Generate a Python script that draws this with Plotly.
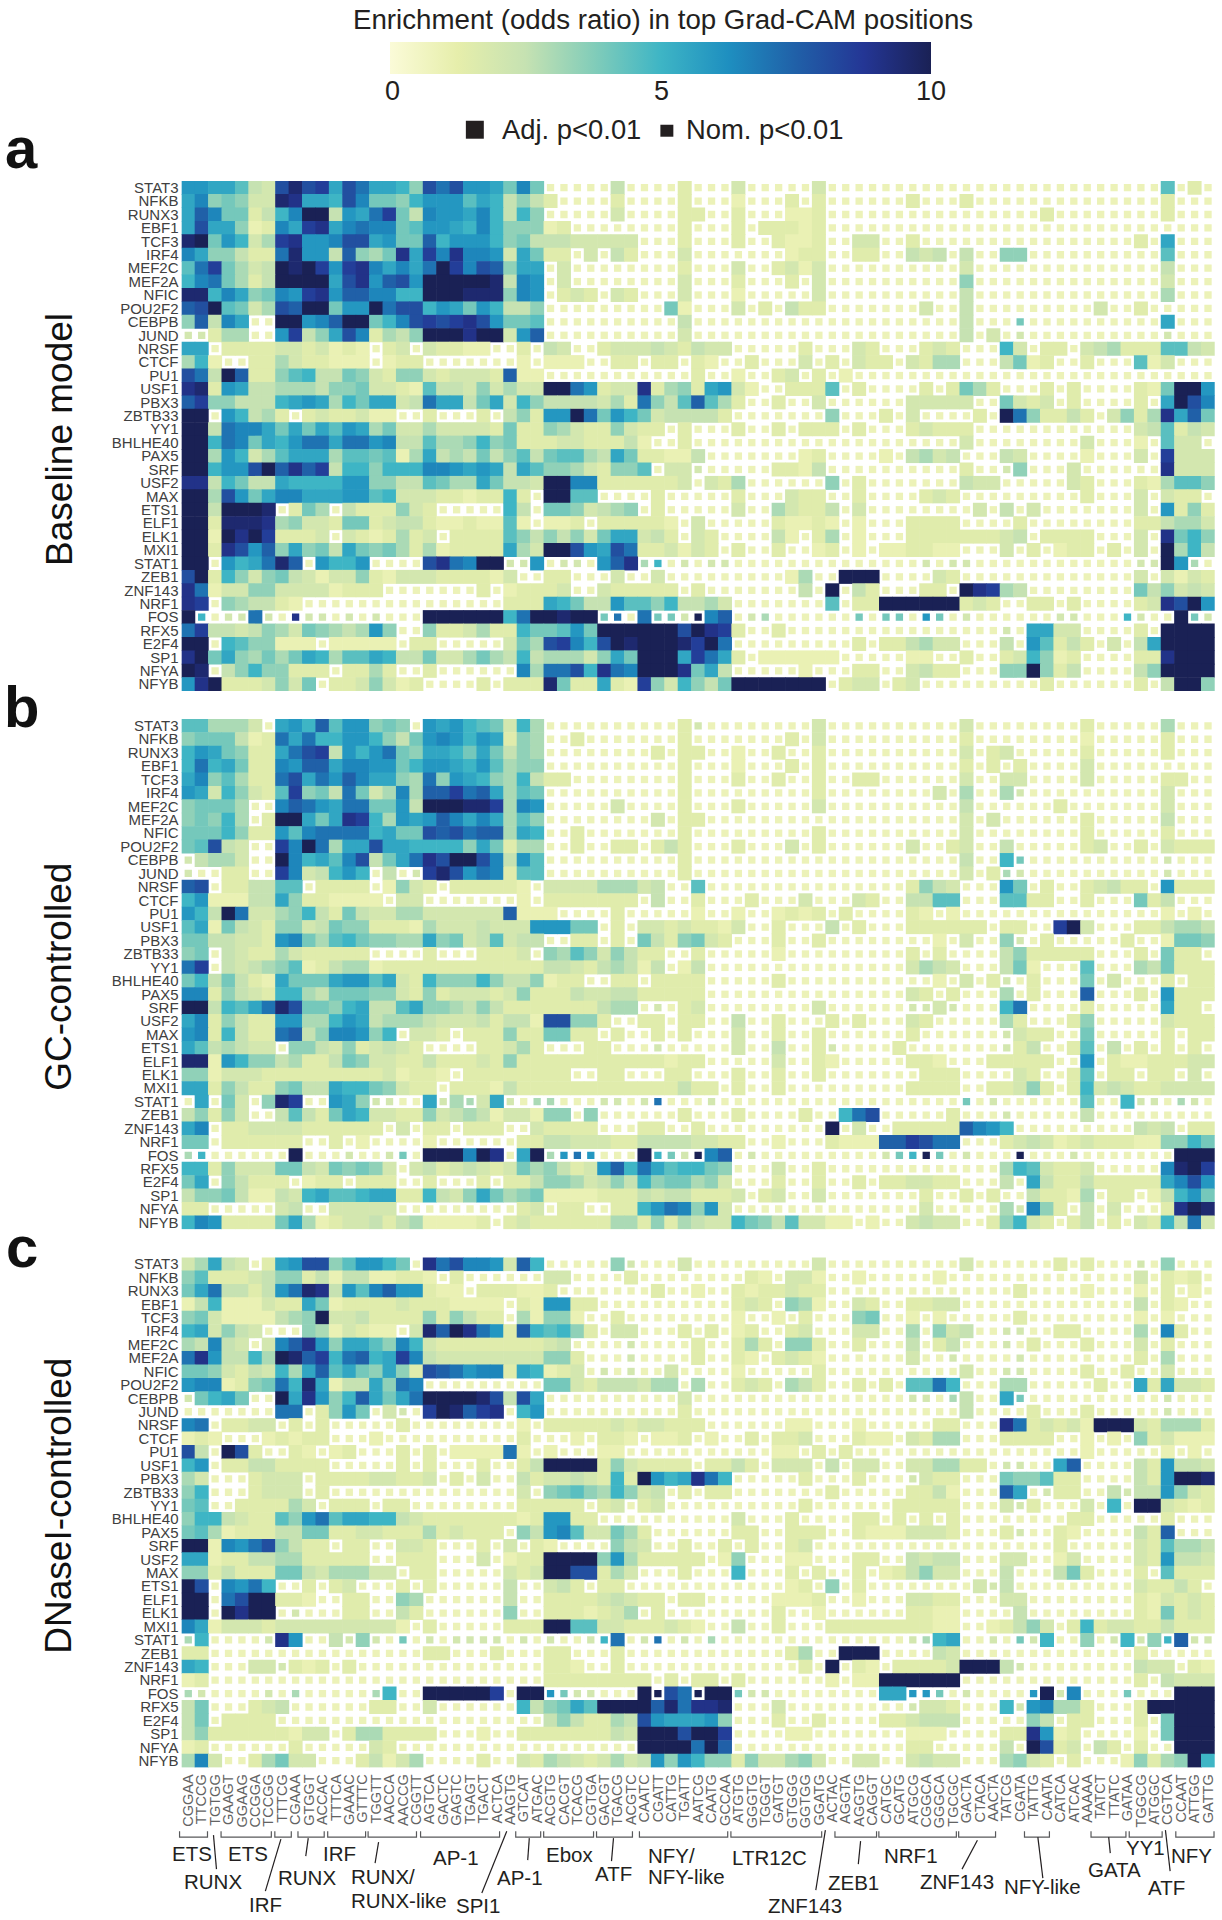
import plotly.graph_objects as go

ROWS = ["STAT3", "NFKB", "RUNX3", "EBF1", "TCF3", "IRF4", "MEF2C", "MEF2A", "NFIC", "POU2F2",
        "CEBPB", "JUND", "NRSF", "CTCF", "PU1", "USF1", "PBX3", "ZBTB33", "YY1", "BHLHE40",
        "PAX5", "SRF", "USF2", "MAX", "ETS1", "ELF1", "ELK1", "MXI1", "STAT1", "ZEB1",
        "ZNF143", "NRF1", "FOS", "RFX5", "E2F4", "SP1", "NFYA", "NFYB"]

MOTIFS = ["CGGAA", "TTCCG", "TGTGG", "GAAGT", "GGAAG", "CCGGA", "TCCGG", "TTTCG", "CGAAA", "GTGGT",
          "ACCAC", "TTTCA", "GAAAC", "GTTTC", "TGGTT", "AACCA", "AACCG", "CGGTT", "AGTCA", "GACTC",
          "GAGTC", "TGAGT", "TGACT", "ACTCA", "AAGTG", "GTCAT", "ATGAC", "ACGTG", "CACGT", "TCACG",
          "CGTGA", "GACGT", "TGACG", "ACGTC", "CAATC", "CGATT", "CATTG", "TGATT", "AATCG", "CAATG",
          "GCCAA", "ATGTG", "GGGTG", "TGGGT", "GATGT", "GTGGG", "GGTGG", "GGATG", "ACTAC", "AGGTA",
          "AGGTG", "CAGGT", "CATGC", "GCATG", "ATGCG", "CGGCA", "GGGCA", "TGCGC", "GACTA", "CTACA",
          "AACTA", "TATCG", "CGATA", "TATTG", "CAATA", "CATCA", "ATCAC", "AAAAA", "TATCT", "TTATC",
          "GATAA", "TGGCG", "ATGGC", "CGTCA", "CCAAT", "ATTGG", "GATTG"]

# one string per TF, one character per motif
# large cells (adj. p): 0-9 then A-K, odds ratio = position / 2
# small cells (nom. p): . = about 0.9, then n p q r s t u v w = 2 to 10
PANEL_A = [
    "CCBB954GJG HBGEBBA7GE GCCB8D8... ..5.... 3... 4.....4... .......... .......... ..9.3.",
    "BD78744JIB BAGD887ACC C9BA5753.. ..3.... 3... 2...3.3... ...3...3.. .......... ..3...",
    "BFD8835ADK K5CBEH85DC CBDA5A7... ..4.... 33.. 3...223... .......... ...3...... ..3...",
    "BGBB723DBH IBDEDD89CC BADA77723. ....... 3... 3.33323... .......... .......... ......",
    "JK8CA46HIC CDGGBC88FA CCCA785554 4444... 3... 3..3223..4 4..3...... .......... 3.B...",
    "DB77533EJC C5F768IBHD IDDC4B833. 4.53... 4... ....233..3 3..545.5.. 77........ ..9...",
    "9EH8645KJK HCHIDBDBEK HDGF7BB.4. ....... 3... 4..3424... .......4.. .......... ..5...",
    "ADE8635KKK KBGICFGCKK KKKJ5DC.4. ....... 4... 3...3.4... .......7.. .......... ..4...",
    "JJADB78DCH ICFFDDAAKK KJJJ7DC.34 3.43... 4... 2.....4... .......5.. .......... ..6...",
    "FGK9846GFK K8CCKEGGAC B8CA557... ......8 2... 4.3.533... ....4..5.. .......4.. 3.....",
    "7F5DB..KKC DFKK8ADGHG HIGC889... ....... 5... .......... .......5.. .q........ ..B...",
    "nn366..CH5 7BGD3657KK KIKK4CF... ....... 4... .......... .......5.4 .n........ ..n...",
    "BB.3333443 4232.34.43 322..3.54. .344454 3544 .....3...4 3...343... A4.33.4563 339954",
    "6A2..33643 3222.233.. .....2.222 ..33.33 .32. .3...4.3.4 33.4366... 5823..3... 924...",
    "GE5KF3379A 5587437743 4443F22... ....... .3.. 2..34.3.2. .......... .......... ......",
    "IJ3CB55666 5778443295 5474644KKE C344I36 73BC 42..3339.3 ....3.3863 ...3.3.... 328KKC",
    "FH77555ABC B6A8BB45EB B58B4A7555 5463E75 9F96 3..3..4... ...44444.. 8434.3.... 3.BKGD",
    "KK.CA563.3 433422..3. ..3.573CCK E8CA845 5553 .......7.. .3.4....3. KE73353.47 36IBF8",
    "KK5EDDB8B8 B9CB684464 4443833764 337433. 3... 3..3.333.3 ...34333.. .......... 459354",
    "KKAED8BACE EBEECD5596 67A7833344 33352.. 3... .......... .......4.. ......4... 2.944.",
    "KK6CA469BB B6998926B5 6585795899 65B8332 25.. .....23... .2.5645... 54....2... 4.H444",
    "KKACCGKFIF H5AA7AAADD CBCB5B9776 43779.4 4n.. ...3325... .......3.. n7...4.... ..I444",
    "II5A855BAA AACC775598 66B8554KKD D333333 4.43 6......7.3 .......544 .....43... 326997",
    "KK6GC8BDDB BBCC9A4443 3233A3.KK9 9....3. .... 3...433..3 ....343... ......3... 4.433.",
    "KK5KKKJ.38 6.5333743. ....A5.887 4567.3. .... 4..64335.4 ........4. 5.4....... 4.C373",
    "KK3JJJI674 4388345532 232292.223 .333332 .4.. ...32232.2 ...3333... .3........ 335664",
    "KK2KIKH333 4.4323634. 3333975757 48BB453 .43. ...52.36.2 ...3333333 45.3333... 4.I8A7",
    "KK3IGCF7B7 85B8786362 3333B64KKG CBGE334 243. 3..3..23.2 .223322... 4.3.233.3. 4.K6A5",
    "KK.CABEJF. CAAC....GI EDKKnnC.nn .CFIpr. n.nn .......... ....n.nn.. .......... nnKCp.",
    "GK3A747854 2447324443 33324..33. ..4..4. .... ....26..KK K....43... .......... 4.4243",
    "IE24477444 42333..... ..3.23334. .433333 .3.. .....5.K.5 3...33.KIH 65........ 857454",
    "IH.765532. .......... ....333BA8 55C997A 5564 .......9.3 3KKKKKK343 ..33.3.... 34IGKC",
    "Kr.nnEn.vn n.n.n...KK KKKKAEKKJK Kqt.Eqq nwDF .np......q .qq.sq.n.. ....nn...r n..Kqn",
    "EH55457648 7656C7..73 34633A889C 8KKKKKK GKIH 3..3...... .......... n.BB44.... 3.KKKK",
    "KK.A977222 .22222.33. ....486GHD AGKJKKK JHKE .........3 .335644... 5.C9353.4. 5BKKKK",
    "IK8B76868B A699BA5584 46865A5666 47B8KKK BHEB 3.222222.. ...22..3.. 34A723.... 33IKKK",
    "KJ.57A7733 3.3363..3. .....D6EEG AIEDKKK I8B5 .....2...3 3..4533... 77K735.... 57KKKK",
    "CIK3334748 .3347423.. ..3.333J83 3B32H74 A758 KKKKKKK.34 4.34...... ...3...... 3.5KK7",
]

PANEL_B = [
    "996664.BCA F9CC787.CB CA984A6... ....... 3n.. ......4... .......4.. ......3... ..6...",
    "7888523EBE AACCA758CD CACB376..3 ....... 3... ....3.4... .......3.. ......2... ..3...",
    "ACB8733BEG H5CACE87BB A8B8576... .....3. 33.. 2..3..3... .......4.3 4.....3... ..3...",
    "AEAB833DCF FBDDCC8ACC BAC9677... ....... 3... 2...3.3... .......3.3 .3....4... ......",
    "BD79633EGB ECFDBB76E7 CBA76A533. ....... 3... 3..3..3..3 3......4.. 44....4... ..33..",
    "CB4A7439H7 85E846D6FF HEFB698... ....... 3... ......3... .....4.6.. 6n........ ..4...",
    "78886..DFE CBEE88C5KK KJJH6DC... ..4.... 3... 3.....4... .......5.. ....3..... ..4...",
    "787A6.3KKB 8BIHA6CBCF DBDB697... .....4. 33.. .......... .......4.4 ......3... ..5...",
    "888A733C9D EEEEAB88GF GEFF6BA..3 ....... 3... ......3... .......4.. ......3... ..3...",
    "89G54..HDK E6BBGBBAAA A7B8366..3 ..33.35 3... 3...4.3... ...4..34.. 5.....34.. 3.4333",
    "n5664..KDA B9DG58BEIG KKGD5C9... ....... 3... .......... .......5.. Aq........ ..n...",
    "n..33..HD4 5ACA.5.nHJ GCED399... ....... 3... .......... .......4.3 pn........ ..n...",
    "FG.335599. 3333.2743. 333332.444 466645. .9.. .......... ...3754... C8.3..3453 3.C333",
    "AC22255B73 32222.44.. .....2.333 3333.5. .3.. .3...4...4 3..5599... 9933..3... 835...",
    "CA5KE4467A 5385446644 4444F222.. ..3.... .2.. 2..2323.3. ...32.2... .......... ..2.2.",
    "9B28543774 5877333264 445444CCC8 8.3.443 4332 4..3...5.3 ...333333. 33..HK4... 335665",
    "8855443CD8 69A87766B7 8459455..3 3.3.853 7843 ...3..3... .....2.4.. 7n.3.....3 ..2887",
    "78.5433643 3333....3. ..3334.769 747533. .3.. ...2...... ...3.3.... 5733333... 3.833.",
    "EH.5456792 3566233333 3333333554 356525. 25.. .......... ...4654... 582...9... 658333",
    "8A58532B88 8BCC9B43A7 77A7557233 ..33.33 33.. ...3...... .....2.4.3 n.3...8.4. ..3.33",
    "DD37543AA6 5888774373 4443473335 4455333 33.. .......... ...43.3... 6.3...F... 3.C333",
    "KK5A9BEJG8 87AB559B77 6575333333 3566.n. 34.. ......4... ...nn4n... AE....3... ..B33.",
    "BD37533CC6 6ACB566654 4453552GG7 73..33. 33.. 5..3...3.3 ...43..... 63...37... ..4333",
    "CD3A533EF5 7DDC7A.443 .333733883 3.3..3. 3... 4..3..3... ...3...... n433..8... ..3.33",
    "B956544.77 54734543.. ..33463... 33...n. .... 4..5..3n.. ..3....... n35..39.5. 3.3.3.",
    "JJ2CA77563 3587443353 3343733333 3333332 33.. ...4..32.. ...332...3 3333..C.32 233344",
    "7724443333 3333342332 .33333333. .33...3 3... 3..3..3... ....333... .43..39.33 .33.4.",
    "BB37533785 5BAA87433. 3332533333 3333333 533. 3..3...... ...3333..3 3473.3A454 334444",
    ".B.84.7JH. .CB7nn..Bn 6p4Bn.pp.. .nn.nt. ..n. .......... .......q.n ......9..A nn.pn.",
    "57374..595 38BA443374 565244277. 7...... 3... 3....3..AE G.....3... n.....5... ......",
    "BD.3344443 33333.4.33 .333..4333 3...33. .3.. .......K.4 ..33333FDC A......... 545.33",
    "88.333333. .3.2....2. .....33554 4433555 5443 3..2...322 2FFHGEE... 3454234333 2277A8",
    "pr......K. ..n..nq.KK KDKI.BKpst s...Krq nwDF .n........ .nqrwq.n.. .w...n.... ...KKK",
    "AA37444885 487874.453 4543486753 4CFAEB9 AA87 ...4..3... .......... 6A94334... ..DJKH",
    "8B.75333.2 33.333..3. ..3.335776 4575A78 8674 ...3..3..3 .334433... 5.B5335333 33BDGC",
    "577852254A B99ABB33A5 47B8678222 2333545 5333 4.34..4... ....3..3.3 ..53326.33 .25AC8",
    "33.....45. .44444.... .....34.33 ..33ACE D7C4 .......... ....4..... 6nD73.5.4. ..3IKJ",
    "ADC33338B6 2344535622 223.343333 3366373 6544 A87594422. 2..4544..3 7A43.35.3. 43A5E4",
]

PANEL_C = [
    "46B54.3BCG G79CCA8.IE GDDC4FA... ..7n... 4... ......4... .......4.. ....3.3... n.7...",
    "7933345773 525522332. 3......44. ...3... .... .32.442..2 .....2.... .......... 4.323.",
    "8BE5535CEJ I5C9DFCC32 2.333223.. .....3. .2.. 3233433... .......... .3....2... 2.3.2.",
    "25A222433B 8233334333 2222.32CC3 3...... .... 343.762..4 3..3344... .......... 5.32..",
    "7842222567 K445333373 7533.62772 ..3.... .... 2..2.3...7 8..2.2.... .3........ 2.2...",
    "AB4754...7 624322.4JF KIEC3FA9A7 3.44... 3.3. 23..34...4 4..6.745.. nn..33.... 6.D3..",
    "65D54.4DFI C7BB97DA43 333333345. ...n... .3.. 363.773..3 ...5.35... n.3...3... 4.3...",
    "EIC55A6KJF HAEFABHD54 4444444773 ...n... .3.. 32.3432... ...4..n... .n........ 3.6...",
    "8874354A6B F9B87B73GF ECDD3BA234 .n.n..4 .... 2.....3... .......4.. nn....3..3 ..4...",
    "CDD2378EAJ B255B7ED.. .......884 3555466 .6.. 343.653..3 .3.99EA... 66.....3.. B3B443",
    "n8AB8..KBI C7AFB8BEKK KKJG5GB... ....... 4... .......... ...nn.p5.. Bq........ ..n...",
    ".......EE. 37C8.4n.HK JFHI.AC... ....... 3... .......... .......5.. ..3...3... ..n...",
    "DE.3344.3. 3.....3... .....2.333 3343443 33.. ....22...2 .....33... IE34342KKK 436663",
    "232...2323 3...2..... .....3...2 .332.22 3.2. .3.334...3 22.4366... 3333..2.2. 734222",
    "G5.KG3..32 .23...3.3. 2222E2.2.. .22.... .... ...22.3.3. .......... ......2... ..2.2.",
    "AC.3355333 3.....3.3. ..3..35KKK K374333 3.33 53.444.5.4 4..446633. nn..BF.... 53C554",
    "64...3444. 333344334. 3.4..53445 43A3KCA BIEA .....3...3 ...n433... 877933.... 53CKKJ",
    "7A...3444. 3......... .....4.789 76A745. 3.33 .......3.. ...3352... FB.n33..5n 55C743",
    "89..333364 .333.33... .....33333 .34.34. .... .....3.... ..33333... 4n3...4.A. KK4323",
    "7AA543397C E9BBAA5433 3333323CC3 3...... .... 4...3....3 3.3.3.3... .....33... ..3...",
    "8962333558 8334433363 4333.75CD9 44863.. .... 33..333..3 2224443... 3n..32.... 53F...",
    "KK2DCEG753 3.33..443. ..3.4.32.. ..754.. 3..3 .3..34.... .......... ....3..... 439665",
    "BB23355663 3333..333. ..4.233KKK K7C6333 33.2 7...22...3 3..5455... 44..24.... 43C554",
    "7735333885 466644.33. ....434KKG G364... 3... A...3.3..3 .235744... 5...583... 3.9333",
    "KG.DCEA..3 .34...3.3. ....5..453 .33.... .... ....23.7.3 ........4n 5......... 43353.",
    "KK.EGKK332 ..33..76.. ....5..333 345433. 33.. ...2223..2 ...4433... 44........ 324343",
    "KK.KIKK.n. ..33..53.. ....7..333 2346.3. .... ...3..2... ...3322... .5........ 328343",
    "DB24443444 4444442.3. ....333KK9 9443334 32.. 5..3...333 3333322..2 3574.3A344 335333",
    "pA....nIC. .5n7n.q.n. nnnn.n.n.. nrE.nt. n.p. .......... ...npAB..n .qnA..7.nA n7rFnn",
    "33........ ........33 ...3...33. ..3.... .... ....36..KK K....54... .......... 3.....",
    "BA...44n32 3.3....... .......332 ..3.... .... .....3.K.3 2.33334KKK 5n........ 544.32",
    "23........ .......... .......333 33333.3 .33. 3......2.2 2KKKKKK... .......... 3.5444",
    "pn....n.p. ....pA..KK KKKH.KKsqn n...KwG EwKK qnn....... .BBssq.n.. ..sKnD...q ...KKK",
    "58...345.. ....33..4. .....A578B 9KKKKFJ EIIJ ...4...... ...n443... AnCD663... 3KKKKK",
    "58.3333... .......... .......575 3365GCB BBC7 ...3..3... .334555... ..75.33... 3.8KKK",
    "5733333324 4.3663333. ..2..33333 3354KKK GKKH ....22.... ...222.... 33IC23.... 2.8KKK",
    "23......3. ....43.... .......... ....KKK KEKF .......... ...33..... 5.KG34.53. 3..KKK",
    "6D4..36844 ...35246.. ..3..43654 34645C7 CA77 3744674..4 4..4544... 6743.3...2 7367KA",
]

BIG = "0123456789ABCDEFGHIJK"
SMALL = {".": 0.9, "n": 2, "p": 3, "q": 4, "r": 5, "s": 6, "t": 7, "u": 8, "v": 9, "w": 10}

COLORS = [[0, "#fbfbd8"], [0.125, "#e6eeab"], [0.25, "#c6e2b2"], [0.375, "#83cdb9"], [0.5, "#3eb5c5"],
          [0.625, "#1e8fc0"], [0.75, "#2060a8"], [0.875, "#243695"], [1, "#1a2155"]]

W = 1222
H = 1920
PANEL_TOPS = [179.3, 718.6, 1258.0]
PANEL_H = 511.1
PANEL_X0 = 180.0
PANEL_X1 = 1215.7
LABEL_SIZES = {"big": 14, "small": 7.3}


def px(x):
    return x / W


def py(y):
    return 1 - y / H


def cells(panel):
    xs, ys, vals, sizes = [], [], [], []
    # small ones first so the large cells are drawn on top
    for want_big in [False, True]:
        for r, row in enumerate(panel):
            row = row.replace(" ", "")
            if len(row) != len(MOTIFS):
                print("bad row", r, len(row))
            for c, ch in enumerate(row[:len(MOTIFS)]):
                is_big = ch in BIG
                if is_big != want_big:
                    continue
                xs.append(c)
                ys.append(r)
                vals.append(BIG.index(ch) / 2 if is_big else SMALL[ch])
                sizes.append(LABEL_SIZES["big"] if is_big else LABEL_SIZES["small"])
    return xs, ys, vals, sizes


fig = go.Figure()

for i, panel in enumerate([PANEL_A, PANEL_B, PANEL_C]):
    xs, ys, vals, sizes = cells(panel)
    suffix = "" if i == 0 else str(i + 1)
    fig.add_trace(go.Scatter(
        x=xs, y=ys, mode="markers", xaxis="x" + suffix, yaxis="y" + suffix,
        marker=dict(symbol="square", size=sizes, color=vals, coloraxis="coloraxis", opacity=1, line_width=0),
        hoverinfo="skip", showlegend=False))
    fig.layout["xaxis" + suffix] = dict(
        domain=[px(PANEL_X0), px(PANEL_X1)], range=[-0.5, 76.5], anchor="y" + suffix,
        showgrid=False, zeroline=False, showline=False, ticks="", ticklabelstandoff=3,
        showticklabels=(i == 2),
        tickmode="array", tickvals=list(range(len(MOTIFS))), ticktext=MOTIFS, tickangle=-90,
        tickfont=dict(family="Liberation Sans", size=14.5, color="#636363"))
    fig.layout["yaxis" + suffix] = dict(
        domain=[py(PANEL_TOPS[i] + PANEL_H), py(PANEL_TOPS[i])], range=[37.5, -0.5], anchor="x" + suffix,
        showgrid=False, zeroline=False, showline=False, ticks="", ticklabelstandoff=2,
        tickmode="array", tickvals=list(range(len(ROWS))), ticktext=ROWS,
        tickfont=dict(family="Liberation Sans", size=15, color="#404040"))

TEXT = "Liberation Sans"
annotations = []


def label(text, x, y, size=20.5, color="#231f20", anchor="center", angle=0, bold=False):
    if bold:
        text = "<b>" + text + "</b>"
    annotations.append(dict(text=text, x=px(x), y=py(y), xref="paper", yref="paper", showarrow=False,
                            xanchor=anchor, yanchor="middle", textangle=angle,
                            font=dict(family=TEXT, size=size, color=color)))


label("a", 20, 146, size=58, bold=True, color="#111111")
label("b", 20, 706, size=58, bold=True, color="#111111")
label("c", 20, 1247, size=58, bold=True, color="#111111")
label("Baseline model", 57, 438, size=37, angle=-90, color="#111111")
label("GC-controlled", 57, 977, size=37, angle=-90, color="#111111")
label("DNaseI-controlled", 57, 1507, size=37, angle=-90, color="#111111")

label("Enrichment (odds ratio) in top Grad-CAM positions", 663, 18, size=27.7)
label("0", 391, 89, size=27)
label("5", 661, 89, size=27)
label("10", 931, 89, size=27)
label("Adj. p&lt;0.01", 499, 128, size=27.4, anchor="left")
label("Nom. p&lt;0.01", 684, 128, size=27.4, anchor="left")

shapes = [
    dict(type="rect", xref="paper", yref="paper", x0=px(465), x1=px(483), y0=py(137), y1=py(119),
         fillcolor="#231f20", line_width=0),
    dict(type="rect", xref="paper", yref="paper", x0=px(660), x1=px(673), y0=py(135), y1=py(123),
         fillcolor="#231f20", line_width=0),
]

GROUP_LABELS = [
    ("ETS", 190, 1855), ("RUNX", 212, 1883), ("ETS", 247, 1855), ("IRF", 264.5, 1906), ("RUNX", 306, 1879),
    ("IRF", 338, 1855), ("AP-1", 455, 1859), ("SPI1", 477.5, 1907), ("AP-1", 519, 1879), ("Ebox", 569, 1856),
    ("ATF", 613.5, 1875), ("LTR12C", 769, 1859), ("ZNF143", 805, 1907), ("ZEB1", 853.4, 1884), ("NRF1", 911, 1857),
    ("ZNF143", 957, 1883), ("NFY-like", 1043, 1888), ("GATA", 1115, 1871), ("YY1", 1146, 1849), ("ATF", 1167, 1889),
    ("NFY", 1192, 1857),
]
for text, x, y in GROUP_LABELS:
    label(text, x, y)
label("RUNX/", 348, 1878, anchor="left")
label("RUNX-like", 348, 1902, anchor="left")
label("NFY/", 646, 1857, anchor="left")
label("NFY-like", 646, 1878, anchor="left")

BRACKETS = [(178, 206), (219.6, 270), (273.5, 290), (296.7, 323), (326.5, 364.5), (367, 415.5), (419.6, 498.8),
            (515, 540), (543, 593), (596, 632), (639, 727.5), (730.7, 821.7), (835, 876.7), (879, 956.7),
            (959, 996), (1025, 1050), (1091.7, 1126.7), (1130, 1163), (1176.7, 1215)]
for x0, x1 in BRACKETS:
    shapes.append(dict(type="path", xref="paper", yref="paper", line=dict(color="#58595b", width=1.2),
                       path="M %f,%f L %f,%f L %f,%f L %f,%f" % (px(x0), py(1833), px(x0), py(1839),
                                                                 px(x1), py(1839), px(x1), py(1833))))

LEADERS = [(212, 1837, 215, 1871), (279.6, 1841, 264, 1893), (307, 1840, 304.5, 1858), (377.5, 1844, 374, 1865),
           (506, 1833, 481, 1895), (528.6, 1840, 527, 1862), (613, 1840, 611, 1863), (825.4, 1832, 815.8, 1892),
           (860.7, 1843, 858.4, 1866), (977.8, 1842, 962.4, 1871), (1038.4, 1839, 1043.4, 1880),
           (1109.4, 1839, 1111, 1855), (1166.3, 1832, 1171, 1873)]
for x0, y0, x1, y1 in LEADERS:
    shapes.append(dict(type="line", xref="paper", yref="paper", x0=px(x0), y0=py(y0), x1=px(x1), y1=py(y1),
                       line=dict(color="#231f20", width=1.2)))

fig.update_layout(
    width=W, height=H, margin=dict(l=0, r=0, t=0, b=0),
    paper_bgcolor="white", plot_bgcolor="white", hovermode=False,
    annotations=annotations, shapes=shapes,
    coloraxis=dict(
        cmin=0, cmax=10, colorscale=COLORS,
        colorbar=dict(
            orientation="h", lenmode="pixels", len=541, thicknessmode="pixels", thickness=32,
            x=px(660.5), xanchor="center", y=py(40), yanchor="top", xpad=0, ypad=0,
            outlinewidth=0, ticks="", showticklabels=False)),
)

fig.write_html("out.html", post_script="document.body.style.margin='0';", config=dict(displayModeBar=False))
